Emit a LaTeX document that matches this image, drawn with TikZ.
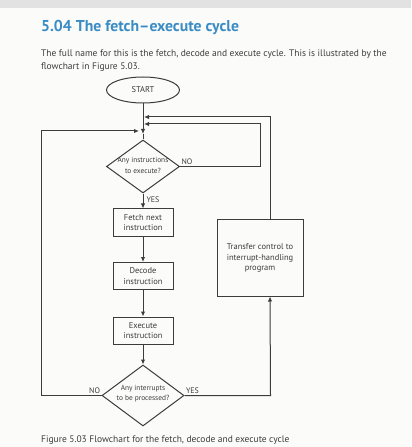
\documentclass[tikz,border=0pt]{standalone}
\usepackage{fontspec}
\setmainfont{PT Sans}
\usetikzlibrary{arrows.meta,shapes.geometric}
\definecolor{bookBlue}{HTML}{3a8cc4}
\definecolor{bookInk}{HTML}{3c3c3c}
\definecolor{bookPage}{HTML}{fbfbfa}
\definecolor{bookBar}{HTML}{e2e2e2}
\tikzset{
  >={Latex[length=5bp,width=4.5bp]},
  term/.style={ellipse, draw=bookInk, line width=1bp, minimum width=73bp,
              minimum height=26bp, inner sep=0pt, text=bookInk,
              font=\fontsize{8.5}{10}\selectfont},
  box/.style={rectangle, draw=bookInk, line width=1bp, minimum width=60bp,
              minimum height=27bp, inner sep=0pt, align=center, text=bookInk,
              font=\fontsize{8.5}{10.5}\selectfont},
  decision/.style={diamond, draw=bookInk, line width=1bp, inner sep=0pt},
  dtext/.style={align=center, inner sep=0pt, text=bookInk,
              font=\fontsize{7.4}{10.5}\selectfont},
  lbl/.style={font=\fontsize{8}{9}\selectfont, text=bookInk, inner sep=1bp},
  body/.style={anchor=base west, inner sep=0pt, text=bookInk,
              font=\fontsize{9.5}{11}\selectfont},
  flow/.style={->, draw=bookInk, line width=1bp},
  plain/.style={draw=bookInk, line width=1bp},
}

\begin{document}
\begin{tikzpicture}[x=1bp,y=-1bp]
  % page
  \fill[bookPage] (0,0) rectangle (411,447);
  \fill[bookBar] (0,0) rectangle (411,8);
  \useasboundingbox (0,0) rectangle (411,447);
  % heading and text
  \node[body,font=\bfseries\fontsize{15.8}{18}\selectfont,text=bookBlue] (title) at (41,32)
       {5.04 The fetch–execute cycle};
  \node[body] (para1) at (41,57)
       {The full name for this is the fetch, decode and execute cycle. This is illustrated by the};
  \node[body] (para2) at (41,70) {flowchart in Figure 5.03.};
  % flowchart
  \node[term] (start) at (143,90) {START};
  \node[decision,minimum width=73bp,minimum height=53bp,
        label={[dtext,yshift=1bp]center:{Any instructions\\to execute?}}] (q1) at (143,166.5) {};
  \foreach \n/\y/\t in {fetch/222.5/Fetch next, decode/276/Decode, execute/330.5/Execute}{
    \node[box] (\n) at (143,\y) {\t\\instruction};}
  \node[decision,minimum width=82bp,minimum height=61bp,
        label={[dtext,yshift=2bp]center:{Any interrupts\\to be processed?}}] (q2) at (143,395.5) {};
  \node[box,minimum width=86bp,minimum height=76bp] (trans) at (260,258)
       {Transfer control to\\interrupt-handling\\program};
  \node[body,font=\fontsize{9.5}{11}\selectfont] (cap) at (41,442)
       {Figure 5.03 Flowchart for the fetch, decode and execute cycle};
  % joins above the first decision
  \coordinate (in1) at (144,117);
  \coordinate (in2) at (144,124);
  \coordinate (in3) at (139,131);
  \coordinate (j) at (143,134);
  \draw[flow] (start) -- (j);
  \draw[plain] (j) -- (q1);
  \draw[flow] (q1.east) -- node[lbl,pos=0,anchor=south west]{NO} ++(80,0) |- (in2);
  \draw[flow] (q1) -- node[lbl,pos=0.4,anchor=west,xshift=2bp]{YES} (fetch);
  \draw[flow] (fetch) -- (decode);
  \draw[flow] (decode) -- (execute);
  \draw[flow] (execute) -- (q2);
  \draw[flow] (q2.west) -- node[lbl,pos=0,anchor=south east]{NO} ++(-60,0) |- (in3);
  \draw[flow] (q2.east) -- node[lbl,pos=0,anchor=south west]{YES} ++(86,0)
              -- ([xshift=10bp]trans.south);
  \draw[flow] ([xshift=10bp]trans.north) |- (in1);
\end{tikzpicture}
\end{document}
